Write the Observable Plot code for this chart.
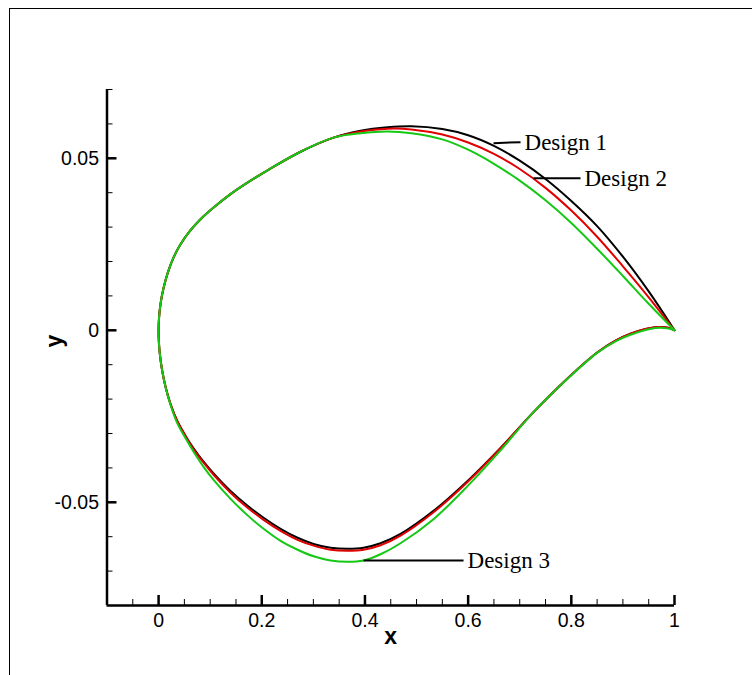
<!DOCTYPE html>
<html>
<head>
<meta charset="utf-8">
<script src="https://cdn.jsdelivr.net/npm/d3@7"></script>
<script src="https://cdn.jsdelivr.net/npm/@observablehq/plot@0.6"></script>
<style>
  html, body { margin: 0; padding: 0; background: #fff; }
  #wrap { position: relative; width: 752px; height: 675px; overflow: hidden; }
  #border { position: absolute; left: 9px; top: 8px; width: 800px; height: 700px;
            border-left: 1.3px solid #000; border-top: 1.3px solid #000; pointer-events: none; }
</style>
</head>
<body>
<div id="wrap"><div id="border"></div></div>
<script>
// ---- data ----
// shared leading-edge part of the upper surface (all three designs coincide there)
const noseUpper = [[0.3391,0.056],[0.2752,0.0519],[0.2112,0.0465],[0.1783,0.0435],[0.1395,0.0396],[0.1066,0.0357],[0.0814,0.0323],[0.062,0.0291],[0.0426,0.025],[0.0291,0.0212],[0.0182,0.0169],[0.0095,0.0122],[0.0039,0.0078],[0.0008,0.0035],[0,0]];

const design1Upper = [[1,0],[0.95,0.0113],[0.9,0.0214],[0.85,0.0303],[0.8,0.0376],[0.75,0.044],[0.7,0.0493],[0.65,0.0536],[0.6,0.0567],[0.55,0.0585],[0.49,0.0593],[0.4438,0.059],[0.3915,0.058]];
const design2Upper = [[1,0],[0.95,0.0096],[0.9,0.0186],[0.85,0.0272],[0.8,0.0348],[0.75,0.0414],[0.7,0.0469],[0.65,0.0513],[0.6,0.0546],[0.55,0.0569],[0.49,0.0584],[0.4438,0.0586],[0.3915,0.0578]];
const design3Upper = [[1,0],[0.95,0.0077],[0.9,0.0158],[0.85,0.0237],[0.8,0.0312],[0.75,0.0378],[0.7,0.0435],[0.65,0.0484],[0.6,0.0525],[0.55,0.0555],[0.49,0.0573],[0.4438,0.0578],[0.3915,0.0573]];

const design1Lower = [[0,0],[0.0006,-0.0035],[0.0023,-0.0067],[0.0068,-0.0116],[0.0138,-0.0166],[0.0233,-0.0215],[0.0359,-0.0263],[0.0523,-0.0307],[0.0678,-0.0343],[0.0872,-0.0382],[0.1066,-0.0416],[0.1395,-0.0467],[0.1725,-0.051],[0.2035,-0.0545],[0.2364,-0.0577],[0.2694,-0.0603],[0.3004,-0.0621],[0.3333,-0.0632],[0.3663,-0.0635],[0.3973,-0.0632],[0.4302,-0.0619],[0.469,-0.0592],[0.5329,-0.0525],[0.5988,-0.0438],[0.6628,-0.0342],[0.7267,-0.0238],[0.7926,-0.014],[0.8508,-0.0064],[0.8857,-0.003],[0.9147,-0.001],[0.9438,0.0004],[0.9632,0.0009],[0.9806,0.0009],[0.9922,0.0006],[1,0]];
const design2Lower = [[0,0],[0.0006,-0.0035],[0.0023,-0.0067],[0.0068,-0.0116],[0.0138,-0.0166],[0.0233,-0.0215],[0.0359,-0.0263],[0.0523,-0.0308],[0.0678,-0.0346],[0.0872,-0.0385],[0.1066,-0.042],[0.1395,-0.0472],[0.1725,-0.0516],[0.2035,-0.0551],[0.2364,-0.0583],[0.2694,-0.0609],[0.3004,-0.0626],[0.3333,-0.0638],[0.3663,-0.0641],[0.3973,-0.0638],[0.4302,-0.0625],[0.469,-0.0597],[0.5329,-0.0529],[0.5988,-0.0441],[0.6628,-0.0343],[0.7267,-0.0238],[0.7926,-0.014],[0.8508,-0.0064],[0.8857,-0.003],[0.9147,-0.001],[0.9438,0.0004],[0.9632,0.0009],[0.9806,0.0009],[0.9922,0.0006],[1,0]];
const design3Lower = [[0,0],[0.0006,-0.0035],[0.0023,-0.0067],[0.0068,-0.0116],[0.0138,-0.0167],[0.0233,-0.0218],[0.0359,-0.0269],[0.0523,-0.0314],[0.0678,-0.0353],[0.0872,-0.0397],[0.1066,-0.0435],[0.1395,-0.049],[0.1725,-0.0538],[0.2035,-0.0577],[0.2364,-0.0612],[0.2694,-0.0638],[0.3004,-0.0657],[0.3333,-0.0669],[0.3663,-0.0673],[0.3973,-0.0669],[0.4302,-0.0651],[0.469,-0.0619],[0.5329,-0.0549],[0.5988,-0.0453],[0.6628,-0.0349],[0.7267,-0.0238],[0.7926,-0.0141],[0.8508,-0.0065],[0.8857,-0.0032],[0.9147,-0.0013],[0.9438,0.0001],[0.9632,0.0007],[0.9806,0.0007],[0.9922,0.0004],[1,0]];

const designNames = ["Design 1", "Design 2", "Design 3"];
const designColors = ["#000000", "#e00000", "#14c814"];

// annotations: label, curve point (x1,y1), text point (x2,y2)
const annLabels = ["Design 1", "Design 2", "Design 3"];
const annX1 = [0.6492, 0.7267, 0.3973];
const annY1 = [0.0544, 0.0442, -0.0669];
const annX2 = [0.7016, 0.8178, 0.5911];
const annY2 = [0.0547, 0.0442, -0.0669];

const xMajor = [0, 0.2, 0.4, 0.6, 0.8, 1];
const xMinor = [-0.05, 0.05, 0.1, 0.15, 0.25, 0.3, 0.35, 0.45, 0.5, 0.55, 0.65, 0.7, 0.75, 0.85, 0.9, 0.95];
const yMajor = [-0.05, 0, 0.05];
const yMinor = [-0.07, -0.06, -0.04, -0.03, -0.02, -0.01, 0.01, 0.02, 0.03, 0.04, 0.06, 0.07];
const xDomain = [-0.1, 1];
const yDomain = [-0.08, 0.07];

// ---- build ----
const shapes = [
  design1Upper.concat(noseUpper, design1Lower.slice(1)),
  design2Upper.concat(noseUpper, design2Lower.slice(1)),
  design3Upper.concat(noseUpper, design3Lower.slice(1))
];
const ann = annLabels.map((label, i) => ({label, x1: annX1[i], y1: annY1[i], x2: annX2[i], y2: annY2[i]}));

const W = 752, H = 675;
const mL = 106.5, mR = 78, mT = 89, mB = 70;
const plotW = W - mL - mR, plotH = H - mT - mB;

const chart = Plot.plot({
  width: W, height: H,
  marginLeft: mL, marginRight: mR, marginTop: mT, marginBottom: mB,
  x: {domain: xDomain},
  y: {domain: yDomain},
  style: {fontFamily: "'Liberation Sans', Arial, Helvetica, sans-serif", background: "transparent", color: "#000"},
  marks: [
    ...shapes.map((pts, i) => Plot.line(pts, {x: d => d[0], y: d => d[1], stroke: designColors[i], strokeWidth: 2, curve: "catmull-rom"})),
    // leader lines
    Plot.link(ann, {x1: "x1", y1: "y1", x2: "x2", y2: "y2", stroke: "#000", strokeWidth: 2}),
    Plot.text(ann, {x: "x2", y: "y2", text: "label", textAnchor: "start", dx: 4, fontSize: 23, fontFamily: "'Liberation Serif', 'Times New Roman', serif", fill: "#000"}),
    // axis lines
    Plot.ruleX([xDomain[0]], {stroke: "#000", strokeWidth: 2.5}),
    Plot.ruleY([yDomain[0]], {stroke: "#000", strokeWidth: 2.5}),
    // ticks (inward)
    Plot.tickX(xMajor, {x: d => d, insetTop: plotH - 10, stroke: "#000", strokeWidth: 2.5}),
    Plot.tickX(xMinor, {x: d => d, insetTop: plotH - 6, stroke: "#000", strokeWidth: 1}),
    Plot.tickY(yMajor, {y: d => d, insetRight: plotW - 10, stroke: "#000", strokeWidth: 2.5}),
    Plot.tickY(yMinor, {y: d => d, insetRight: plotW - 6, stroke: "#000", strokeWidth: 1}),
    // tick labels
    Plot.axisX(xMajor, {tickSize: 0, tickPadding: 8, fontSize: 19.5, tickFormat: d => String(d), label: null}),
    Plot.axisY(yMajor, {tickSize: 0, tickPadding: 8, fontSize: 19.5, tickFormat: d => String(d), label: null}),
    // axis titles
    Plot.text(["x"], {frameAnchor: "bottom", dy: 38, text: d => d, fontSize: 23, fontWeight: "bold", fill: "#000"}),
    Plot.text(["y"], {frameAnchor: "left", dx: -52.5, rotate: -90, text: d => d, fontSize: 23, fontWeight: "bold", fill: "#000"})
  ]
});
chart.style.position = "absolute";
chart.style.left = "0";
chart.style.top = "0";
document.getElementById("wrap").prepend(chart);
</script>
</body>
</html>
